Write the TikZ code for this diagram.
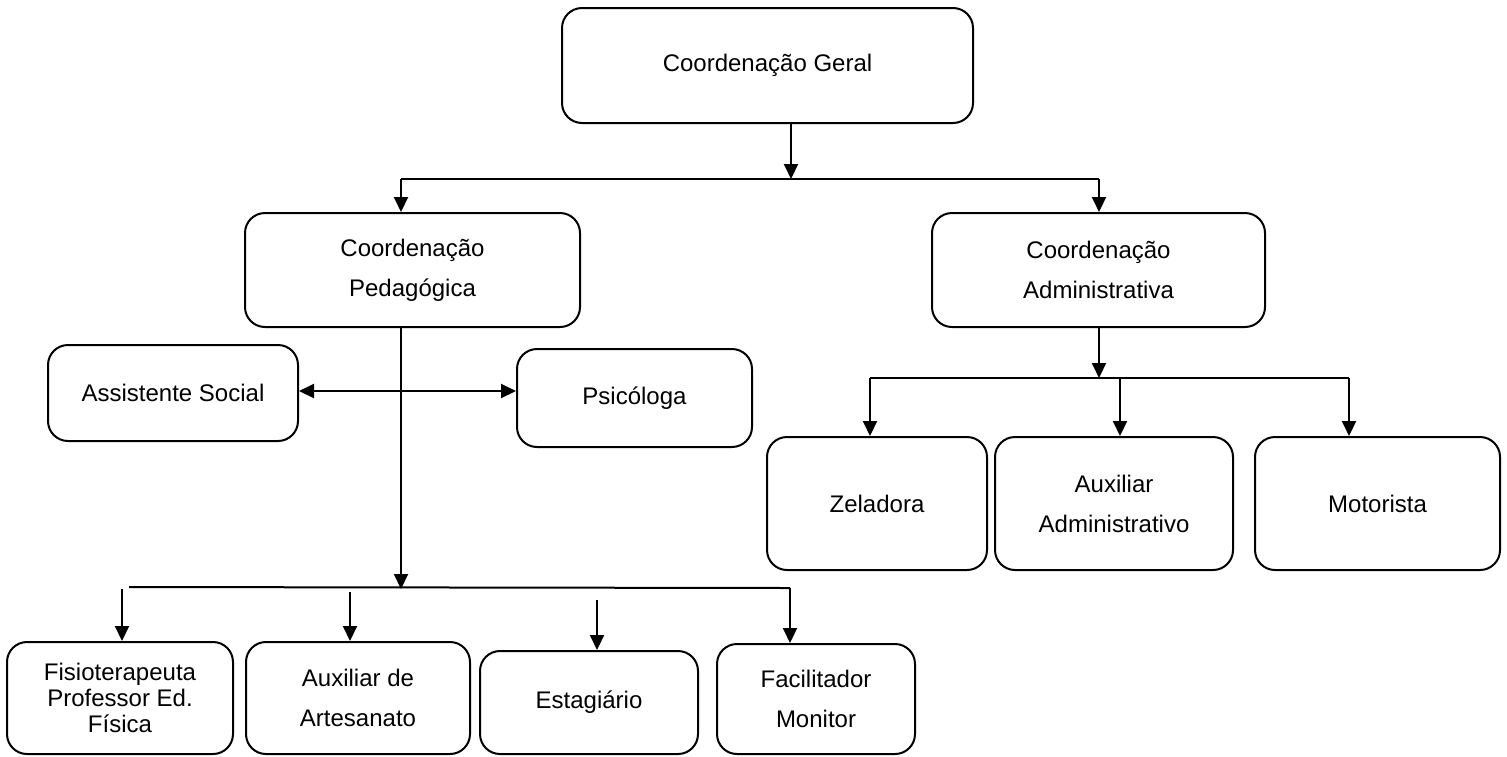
\documentclass[tikz,border=0pt]{standalone}
\usepackage{fontspec}
\setmainfont{Liberation Sans}
\usepackage{tikz}
\usetikzlibrary{arrows.meta}

\begin{document}
\begin{tikzpicture}[x=0.5pt, y=-0.5pt, line width=1pt,
            caixa/.style={draw, rounded corners=10pt, align=center, inner sep=0pt,
                font=\fontsize{12pt}{14pt}\selectfont},
            seta/.style={-{Triangle[length=7.5pt, width=7pt]}}]
            \useasboundingbox (0,0) rectangle (1507,756);
            \node[caixa, minimum width=205.5pt, minimum height=57.5pt] (geral) at (767.5,65.5) {Coordenação Geral};
            \node[caixa, minimum width=167.5pt, minimum height=57pt] (ped) at (412.5,270) {Coordenação\\[6pt]Pedagógica};
            \node[caixa, minimum width=166.5pt, minimum height=57pt] (adm) at (1098.5,270) {Coordenação\\[6pt]Administrativa};
            \node[caixa, minimum width=125pt, minimum height=48pt] (assist) at (173,393) {\raisebox{-4pt}{Assistente Social}};
            \node[caixa, minimum width=117.5pt, minimum height=49pt] (psic) at (634.5,398) {\raisebox{-4pt}{Psicóloga}};
            \node[caixa, minimum width=110pt, minimum height=66.5pt] (zel) at (877,503.5) {Zeladora};
            \node[caixa, minimum width=119pt, minimum height=66.5pt] (auxadm) at (1114,503.5) {Auxiliar\\[6pt]Administrativo};
            \node[caixa, minimum width=122.5pt, minimum height=66.5pt] (mot) at (1377.5,503.5) {Motorista};
            \node[caixa, minimum width=113pt, minimum height=56pt, font=\fontsize{12pt}{13pt}\selectfont] (fisio) at (120,698) {Fisioterapeuta\\Professor Ed.\\Física};
            \node[caixa, minimum width=112pt, minimum height=56pt] (artes) at (358,698) {Auxiliar de\\[6pt]Artesanato};
            \node[caixa, minimum width=109pt, minimum height=51.5pt] (estag) at (589,702.5) {Estagiário};
            \node[caixa, minimum width=99pt, minimum height=55pt] (facil) at (816,699) {Facilitador\\[6pt]Monitor};
            \coordinate (topo) at (791,179);
            \coordinate (topoE) at (401,179);
            \coordinate (topoD) at (1099,179);
            \draw[seta] (geral.south -| topo) -- (topo);
            \draw (topoE) -- (topoD);
            \draw[seta] (topoE) -- (topoE |- ped.north);
            \draw[seta] (topoD) -- (topoD |- adm.north);
            \coordinate (pedMeio) at (401,391);
            \coordinate (pedBase) at (401,589);
            \draw (ped.south -| pedMeio) -- (pedMeio);
            \draw[seta] (pedMeio) -- (pedMeio -| assist.east);
            \draw[seta] (pedMeio) -- (pedMeio -| psic.west);
            \draw[seta] (pedMeio) -- (pedBase);
            \coordinate (baseE) at (129,587);
            \coordinate (baseD) at (790,588);
            \draw (baseE) -- (baseD);
            \coordinate (s1) at (122,589);
            \coordinate (s2) at (350,592);
            \coordinate (s3) at (597,600);
            \draw[seta] (s1) -- (s1 |- fisio.north);
            \draw[seta] (s2) -- (s2 |- artes.north);
            \draw[seta] (s3) -- (s3 |- estag.north);
            \draw[seta] (baseD) -- (baseD |- facil.north);
            \coordinate (admMeio) at (1099,378);
            \coordinate (admE) at (870,378);
            \coordinate (admC) at (1120,378);
            \coordinate (admD) at (1349,378);
            \draw[seta] (adm.south -| admMeio) -- (admMeio);
            \draw (admE) -- (admD);
            \draw[seta] (admE) -- (admE |- zel.north);
            \draw[seta] (admC) -- (admC |- auxadm.north);
            \draw[seta] (admD) -- (admD |- mot.north);
        \end{tikzpicture}
\end{document}
